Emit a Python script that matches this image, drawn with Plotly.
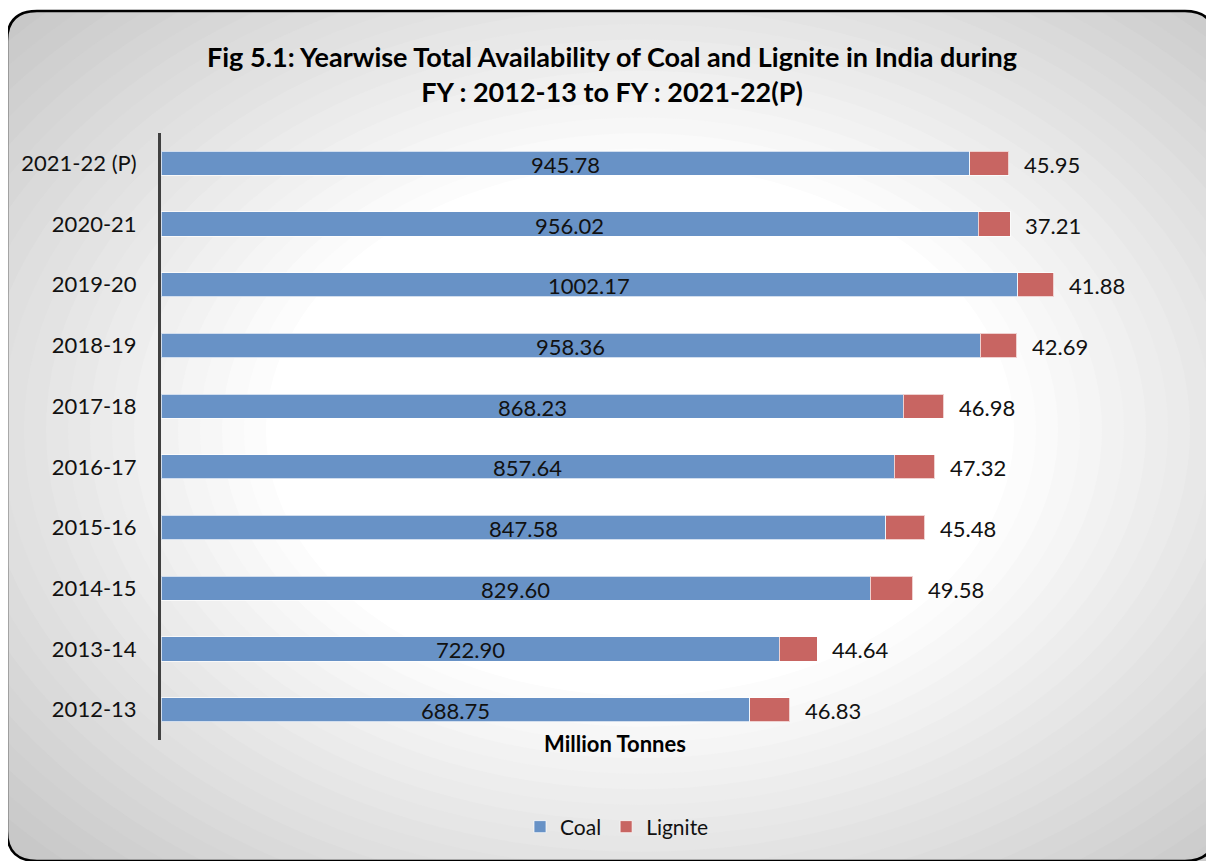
import plotly.graph_objects as go

years = ["2012-13", "2013-14", "2014-15", "2015-16", "2016-17", "2017-18",
         "2018-19", "2019-20", "2020-21", "2021-22 (P)"]
coal = [688.75, 722.90, 829.60, 847.58, 857.64, 868.23, 958.36, 1002.17, 956.02, 945.78]
lignite = [46.83, 44.64, 49.58, 45.48, 47.32, 46.98, 42.69, 41.88, 37.21, 45.95]

OFF = 8  # page body margin
W, H = 1214 - OFF, 861 - OFF
# plot area in page pixels: left 161, right 1187, top 133, bottom 740
ML, MR, MT, MB = 161 - OFF, W - (1187 - OFF), 133 - OFF, H - (740 - OFF)
PW, PH = W - ML - MR, H - MT - MB
FONT = "Lato"


def px(x):
    """page pixel x -> paper coordinate"""
    return (x - OFF - ML) / PW


def py(y):
    """page pixel y -> paper coordinate"""
    return (H - MB - (y - OFF)) / PH


COAL_C = "#6892c6"
LIG_C = "#c86562"

fig = go.Figure()
fig.add_trace(go.Bar(
    y=years, x=coal, orientation="h", name="Coal",
    marker=dict(color=COAL_C, line=dict(color="rgba(255,255,255,0.7)", width=1)),
    hoverinfo="x+y",
))
fig.add_trace(go.Bar(
    y=years, x=lignite, orientation="h", name="Lignite",
    marker=dict(color=LIG_C, line=dict(color="rgba(255,255,255,0.7)", width=1)),
    hoverinfo="x+y",
))

annotations = []
for yr, c, l in zip(years, coal, lignite):
    # coal label centred on the coal segment
    annotations.append(dict(
        x=c / 2, y=yr, xref="x", yref="y", text=f"{c:.2f}",
        showarrow=False, xanchor="center", yanchor="middle", yshift=-1,
        font=dict(family=FONT, size=22, color="#111111"),
    ))
    # lignite label just outside the end of the stack
    annotations.append(dict(
        x=c + l, y=yr, xref="x", yref="y", text=f"{l:.2f}",
        showarrow=False, xanchor="left", yanchor="middle", xshift=13, yshift=-1,
        font=dict(family=FONT, size=22, color="#111111"),
    ))
annotations.append(dict(
    x=px(615), y=py(743), xref="paper", yref="paper", text="<b>Million Tonnes</b>",
    showarrow=False, xanchor="center", yanchor="middle",
    font=dict(family=FONT, size=22, color="#000000"),
))

# background: radial-ish gradient from nested ellipses
shapes = []
cx, cy = 640, 430
K = 880
N = 40
for i in range(N):
    t = 1.0 - i / N
    if t < 0.42:
        v = 255
    else:
        v = int(round(255 - 57 * (t - 0.42) / 0.58))
    rx, ry = K * t, K * t * 0.71
    shapes.append(dict(
        type="circle", xref="paper", yref="paper", layer="below",
        x0=px(cx - rx), x1=px(cx + rx), y0=py(cy + ry), y1=py(cy - ry),
        fillcolor=f"rgb({v},{v},{v})", line=dict(width=0),
    ))

bx0, by0, bx1, by1, r = 7, 11, 1215, 861, 30


def P(x, y):
    return f"{px(x):.5f},{py(y):.5f}"


mask_paths = [
    f"M {P(-5,-5)} L {P(bx0+r,-5)} L {P(bx0+r,by0)} Q {P(bx0,by0)} {P(bx0,by0+r)} L {P(-5,by0+r)} Z",
    f"M {P(1225,-5)} L {P(bx1-r,-5)} L {P(bx1-r,by0)} Q {P(bx1,by0)} {P(bx1,by0+r)} L {P(1225,by0+r)} Z",
    f"M {P(-5,870)} L {P(bx0+r,870)} L {P(bx0+r,by1)} Q {P(bx0,by1)} {P(bx0,by1-r)} L {P(-5,by1-r)} Z",
]
for mp in mask_paths:
    shapes.append(dict(type="path", xref="paper", yref="paper", layer="below",
                       path=mp, fillcolor="white", line=dict(width=0)))
shapes.append(dict(type="rect", xref="paper", yref="paper", layer="below",
                   x0=px(-5), x1=px(bx0), y0=py(870), y1=py(-5),
                   fillcolor="white", line=dict(width=0)))
shapes.append(dict(type="rect", xref="paper", yref="paper", layer="below",
                   x0=px(-5), x1=px(1225), y0=py(by0), y1=py(-5),
                   fillcolor="white", line=dict(width=0)))
border = (f"M {P(bx0+r,by0)} L {P(bx1-r,by0)} Q {P(bx1,by0)} {P(bx1,by0+r)} "
          f"L {P(bx1,by1-r)} Q {P(bx1,by1)} {P(bx1-r,by1)} "
          f"L {P(bx0+r,by1)} Q {P(bx0,by1)} {P(bx0,by1-r)} "
          f"L {P(bx0,by0+r)} Q {P(bx0,by0)} {P(bx0+r,by0)} Z")
shapes.append(dict(type="path", xref="paper", yref="paper", layer="below",
                   path=border, line=dict(color="#000000", width=2.5)))

fig.update_layout(
    width=W, height=H,
    margin=dict(l=ML, r=MR, t=MT, b=MB),
    paper_bgcolor="white",
    plot_bgcolor="rgba(0,0,0,0)",
    barmode="stack",
    bargap=0.6,
    title=dict(
        text="<b>Fig 5.1: Yearwise Total Availability of Coal and Lignite in India during<br>FY : 2012-13 to FY : 2021-22(P)</b>",
        x=(612 - OFF) / W, xanchor="center", y=1 - (67 - OFF) / H, yanchor="middle",
        font=dict(family=FONT, size=27, color="#000000"),
    ),
    xaxis=dict(range=[0, 1200], visible=False, fixedrange=True),
    yaxis=dict(
        type="category", categoryorder="array", categoryarray=years,
        showline=True, linecolor="#404040", linewidth=3,
        showgrid=False, ticks="", ticklabelstandoff=17,
        tickfont=dict(family=FONT, size=22, color="#111111"),
        zeroline=False,
    ),
    legend=dict(
        orientation="h", x=(617 - OFF) / W, xref="container", xanchor="center",
        y=1 - (827 - OFF) / H, yref="container", yanchor="middle",
        font=dict(family=FONT, size=21, color="#111111"),
        bgcolor="rgba(0,0,0,0)", itemwidth=30, traceorder="normal",
    ),
    annotations=annotations,
    shapes=shapes,
    showlegend=True,
)

fig.write_html("out.html")
